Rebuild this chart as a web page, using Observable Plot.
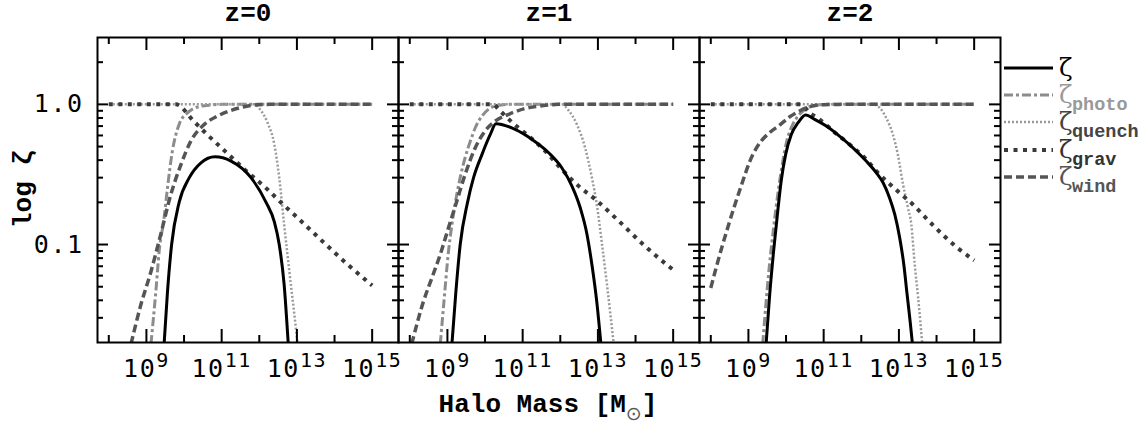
<!DOCTYPE html>
<html><head><meta charset="utf-8">
<script src="https://cdn.jsdelivr.net/npm/d3@7"></script>
<script src="https://cdn.jsdelivr.net/npm/@observablehq/plot@0.6"></script>
<style>
html,body{margin:0;padding:0;background:#fff;}
#chart{width:1146px;height:423px;}
g[aria-label="x-axis tick label"] text, g[aria-label="y-axis tick label"] text{letter-spacing:1.5px;}
</style></head><body><div id="chart"></div>
<script>
// Panels (redshift)
const panels = ["z=0", "z=1", "z=2"];

// Each point: [log10 halo mass, zeta]
// z=0
const zeta0   = [[9.47,0.0195],[9.56,0.046],[9.67,0.1],[9.87,0.2],[10.14,0.3],[10.45,0.383],[10.82,0.423],[11.25,0.394],[11.78,0.3],[12.18,0.2],[12.40,0.145],[12.53,0.1],[12.66,0.052],[12.77,0.0195]];
const photo0  = [[9.12,0.0195],[9.25,0.046],[9.34,0.09],[9.47,0.155],[9.56,0.254],[9.69,0.464],[9.87,0.72],[10.09,0.87],[10.36,0.957],[10.71,0.99],[11.0,1],[15,1]];
const quench0 = [[8,1],[11.87,1],[12.04,0.906],[12.22,0.74],[12.4,0.518],[12.53,0.3],[12.66,0.139],[12.8,0.064],[12.93,0.032],[13.02,0.0195]];
const grav0   = [[8,1],[9.78,1],[10.27,0.752],[10.63,0.604],[11.11,0.458],[11.6,0.345],[12.22,0.247],[12.58,0.199],[13.02,0.155],[13.77,0.1],[14.35,0.072],[15,0.051]];
const wind0   = [[8.59,0.0195],[8.85,0.037],[9.12,0.064],[9.38,0.118],[9.65,0.228],[9.92,0.373],[10.18,0.547],[10.54,0.72],[10.89,0.826],[11.25,0.906],[11.6,0.962],[11.96,0.995],[12.3,1],[15,1]];
// z=1
const zeta1   = [[9.12,0.0195],[9.225,0.046],[9.34,0.1],[9.535,0.2],[9.695,0.3],[9.92,0.44],[10.14,0.61],[10.29,0.728],[10.80,0.663],[11.25,0.562],[11.69,0.452],[12.04,0.353],[12.31,0.261],[12.53,0.183],[12.71,0.118],[12.84,0.072],[12.97,0.039],[13.08,0.0195]];
const photo1  = [[8.81,0.0195],[8.9,0.037],[9.03,0.09],[9.12,0.139],[9.25,0.228],[9.47,0.416],[9.61,0.547],[9.74,0.681],[9.92,0.826],[10.09,0.921],[10.27,0.973],[10.63,1],[15,1]];
const quench1 = [[8,1],[12.04,1],[12.22,0.906],[12.44,0.72],[12.66,0.49],[12.84,0.3],[12.97,0.193],[13.11,0.1],[13.24,0.052],[13.42,0.0195]];
const grav1   = [[8,1],[10.22,1],[10.36,0.921],[10.76,0.728],[11.16,0.594],[11.6,0.464],[12.04,0.343],[12.49,0.261],[12.93,0.21],[13.51,0.151],[14.26,0.097],[14.88,0.07],[15,0.066]];
const wind1   = [[8.05,0.0195],[8.36,0.039],[8.59,0.058],[8.81,0.085],[9.03,0.132],[9.25,0.204],[9.47,0.316],[9.74,0.49],[10.0,0.645],[10.27,0.76],[10.63,0.849],[11.07,0.936],[11.51,0.978],[11.96,1],[15,1]];
// z=2
const zeta2   = [[9.47,0.0195],[9.56,0.042],[9.67,0.09],[9.78,0.173],[9.87,0.283],[9.99,0.44],[10.14,0.61],[10.32,0.74],[10.52,0.839],[10.76,0.782],[11.07,0.7],[11.42,0.594],[11.78,0.49],[12.13,0.394],[12.4,0.325],[12.58,0.276],[12.75,0.216],[12.89,0.164],[13.02,0.112],[13.13,0.072],[13.21,0.046],[13.3,0.028],[13.36,0.0195]];
const photo2  = [[9.38,0.0195],[9.47,0.039],[9.56,0.072],[9.67,0.132],[9.78,0.228],[9.9,0.373],[10.02,0.547],[10.18,0.72],[10.36,0.849],[10.54,0.936],[10.8,0.984],[11.07,1],[15,1]];
const quench2 = [[8,1],[12.31,1],[12.49,0.946],[12.66,0.803],[12.84,0.61],[12.97,0.44],[13.11,0.268],[13.24,0.183],[13.33,0.139],[13.42,0.072],[13.51,0.042],[13.62,0.0195]];
const grav2   = [[8,1],[10.38,1],[10.63,0.87],[10.89,0.782],[11.25,0.645],[11.69,0.518],[12.13,0.405],[12.4,0.334],[12.97,0.24],[13.37,0.193],[13.91,0.137],[14.53,0.096],[15,0.077]];
const wind2   = [[8.0,0.049],[8.14,0.068],[8.45,0.132],[8.76,0.24],[9.12,0.44],[9.34,0.547],[9.56,0.628],[9.83,0.711],[10.09,0.812],[10.36,0.896],[10.63,0.962],[10.98,0.995],[11.5,1],[15,1]];

// Ticks
const xMajor = [1e9, 1e11, 1e13, 1e15];
const xMinor = [1e8, 1e10, 1e12, 1e14];
const xTickExponents = ["9", "11", "13", "15"];
const yMajor = [0.1, 1];
const yTickLabels = ["0.1", "1.0"];
const yMinor = [0.03,0.04,0.05,0.06,0.07,0.08,0.09,0.2,0.3,0.4,0.5,0.6,0.7,0.8,0.9,2];

// Legend
const legendNames = ["", "photo", "quench", "grav", "wind"];

// Styles
const styles = [
  {stroke: "#000000", width: 3,   dash: null,      text: "#000000"},
  {stroke: "#8c8c8c", width: 3,   dash: "9,3,3,3", text: "#999999"},
  {stroke: "#9a9a9a", width: 2.5, dash: "2,2",     text: "#444444"},
  {stroke: "#3a3a3a", width: 4,   dash: "4,5.5",   text: "#333333"},
  {stroke: "#555555", width: 3.5, dash: "8,4",     text: "#555555"}
];
const seriesData = [
  [zeta0, zeta1, zeta2],
  [photo0, photo1, photo2],
  [quench0, quench1, quench2],
  [grav0, grav1, grav2],
  [wind0, wind1, wind2]
];

const W = 1146, H = 423, mT = 37, mB = 81, mL = 97, mR = 146;
const plotH = H - mT - mB;
const facetW = (W - mL - mR) / 3;

const lineMarks = [];
seriesData.forEach((byPanel, s) => {
  byPanel.forEach((data, p) => {
    lineMarks.push(Plot.line(data, {
      x: d => 10 ** d[0], y: d => d[1], fx: () => panels[p],
      stroke: styles[s].stroke, strokeWidth: styles[s].width,
      strokeDasharray: styles[s].dash, strokeLinecap: "butt",
      curve: "monotone-x", clip: true
    }));
  });
});
// draw zeta on top
const ordered = lineMarks.slice(3).concat(lineMarks.slice(0, 3));

const tk = {stroke: "#000", strokeWidth: 2};
const chart = Plot.plot({
  width: W, height: H,
  marginTop: mT, marginBottom: mB, marginLeft: mL, marginRight: mR,
  style: {fontFamily: "DejaVu Sans Mono", background: "#fff", color: "#000"},
  fx: {domain: panels, padding: 0},
  x: {type: "log", domain: [10 ** 7.7, 10 ** 15.7]},
  y: {type: "log", domain: [0.02, 3]},
  marks: [
    ...ordered,
    Plot.frame({stroke: "#000", strokeWidth: 2}),
    Plot.tickX(xMajor, {x: d => d, insetTop: plotH - 13, ...tk}),
    Plot.tickX(xMajor, {x: d => d, insetBottom: plotH - 13, ...tk}),
    Plot.tickX(xMinor, {x: d => d, insetTop: plotH - 7, ...tk}),
    Plot.tickX(xMinor, {x: d => d, insetBottom: plotH - 7, ...tk}),
    Plot.tickY(yMajor, {y: d => d, insetRight: facetW - 11, ...tk}),
    Plot.tickY(yMajor, {y: d => d, insetLeft: facetW - 11, ...tk}),
    Plot.tickY(yMinor, {y: d => d, insetRight: facetW - 6, ...tk}),
    Plot.tickY(yMinor, {y: d => d, insetLeft: facetW - 6, ...tk}),
    Plot.axisFx({anchor: "top", label: null, tickSize: 0, tickPadding: 17,
      fontSize: 26, fontWeight: "bold", fontFamily: "Liberation Mono", fill: "#000"}),
    Plot.axisX({anchor: "bottom", ticks: xMajor, label: null, tickSize: 0, tickPadding: 17,
      fontSize: 25, fontFamily: "DejaVu Sans Mono", fill: "#000",
      tickFormat: d => "10|" + xTickExponents[xMajor.indexOf(d)]}),
    Plot.axisY({anchor: "left", ticks: yMajor, label: null, tickSize: 0, tickPadding: 14,
      fontSize: 25, fontFamily: "DejaVu Sans Mono", fill: "#000",
      tickFormat: d => yTickLabels[yMajor.indexOf(d)]})
  ]
});
document.getElementById("chart").appendChild(chart);

const svg = d3.select(chart);
// superscript exponents
svg.selectAll('g[aria-label="x-axis tick label"] text').each(function() {
  const t = d3.select(this);
  const parts = this.textContent.split("|");
  if (parts.length !== 2) return;
  t.text(null);
  t.append("tspan").text(parts[0]);
  t.append("tspan").attr("dy", "-0.5em").attr("font-size", "0.8em").text(parts[1]);
});

// x label
const xl = svg.append("text")
  .attr("x", 548).attr("y", 412).attr("text-anchor", "middle")
  .attr("font-family", "Liberation Mono").attr("font-weight", "bold")
  .attr("font-size", 26).attr("fill", "#000");
xl.append("tspan").text("Halo Mass [M");
xl.append("tspan").attr("dy", 8).attr("font-size", 19).attr("font-family", "DejaVu Sans")
  .attr("font-weight", "normal").attr("fill", "#555").text("⊙");
xl.append("tspan").attr("dy", -8).text("]");

// y label
svg.append("text")
  .attr("transform", "translate(31,189) rotate(-90)")
  .attr("text-anchor", "middle")
  .attr("font-family", "Liberation Mono").attr("font-weight", "bold")
  .attr("font-size", 26).attr("fill", "#000")
  .text("log ζ");

// legend
const rowsY = [68, 95, 122, 150, 177];
const lg = svg.append("g").attr("text-anchor", "start");
legendNames.forEach((name, i) => {
  const st = styles[i], y = rowsY[i];
  lg.append("line").attr("x1", 1004).attr("x2", 1053).attr("y1", y).attr("y2", y)
    .attr("stroke", st.stroke).attr("stroke-width", st.width)
    .attr("stroke-dasharray", st.dash).attr("stroke-linecap", "butt");
  lg.append("text").attr("x", 1059).attr("y", y + 8).attr("text-anchor", "start")
    .attr("font-family", "DejaVu Serif").attr("font-size", 25)
    .attr("fill", st.text).text("ζ");
  if (name) {
    lg.append("text").attr("x", 1072).attr("y", y + 15).attr("text-anchor", "start")
      .attr("font-family", "Liberation Mono").attr("font-weight", "bold")
      .attr("font-size", 18.5).attr("fill", st.text).text(name);
  }
});
</script></body></html>
